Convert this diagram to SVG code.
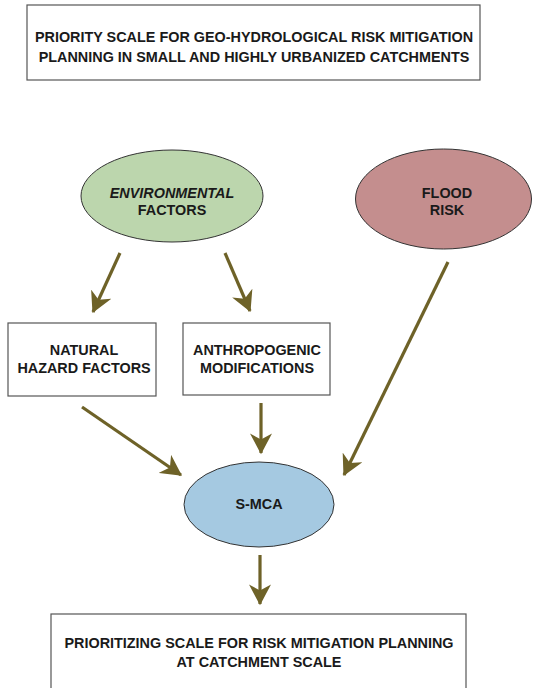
<svg xmlns="http://www.w3.org/2000/svg" width="533" height="688" viewBox="0 0 533 688">
<style>
text{font-family:"Liberation Sans",Arial,sans-serif;font-weight:bold;font-size:14.4px;fill:#1a1a1a;text-anchor:middle}
.box{fill:#fff;stroke:#555;stroke-width:1.2}
.ell{stroke:#333;stroke-width:1}
.arr{stroke:#6e6228;stroke-width:3.2;fill:none;marker-end:url(#ah)}
</style>
<defs>
<marker id="ah" markerUnits="userSpaceOnUse" markerWidth="22" markerHeight="22" refX="16" refY="9" orient="auto" viewBox="0 0 18 18">
<path d="M0,0 L17,9 L0,18 L5,9 Z" fill="#6e6228"/>
</marker>
</defs>
<rect width="533" height="688" fill="#fff"/>
<g id="title">
<rect class="box" x="27" y="5" width="453" height="75"/>
<text x="254" y="42" font-size="14.2">PRIORITY SCALE FOR GEO-HYDROLOGICAL RISK MITIGATION</text>
<text x="254" y="62" font-size="14.2">PLANNING IN SMALL AND HIGHLY URBANIZED CATCHMENTS</text>
</g>
<g id="env">
<ellipse class="ell" cx="172" cy="196" rx="91" ry="46" fill="#bcd6ad"/>
<text x="172" y="198" font-style="italic">ENVIRONMENTAL</text>
<text x="172" y="215">FACTORS</text>
</g>
<g id="flood">
<ellipse class="ell" cx="443.5" cy="199" rx="88" ry="50" fill="#c48e8e"/>
<text x="447" y="198">FLOOD</text>
<text x="447" y="215">RISK</text>
</g>
<g id="natural">
<rect class="box" x="8" y="323" width="148" height="73"/>
<text x="84" y="355">NATURAL</text>
<text x="84" y="373">HAZARD FACTORS</text>
</g>
<g id="anthro">
<rect class="box" x="183" y="323" width="147" height="72"/>
<text x="257" y="355">ANTHROPOGENIC</text>
<text x="257" y="373">MODIFICATIONS</text>
</g>
<g id="smca">
<ellipse class="ell" cx="259" cy="504.5" rx="75" ry="42.5" fill="#a5c9e1"/>
<text x="259" y="508.5">S-MCA</text>
</g>
<g id="result">
<rect class="box" x="51" y="614" width="415" height="80"/>
<text x="259" y="648">PRIORITIZING SCALE FOR RISK MITIGATION PLANNING</text>
<text x="259" y="667">AT CATCHMENT SCALE</text>
</g>
<g id="connectors">
<path class="arr" d="M120,253 L93,312"/>
<path class="arr" d="M225,253 L250,311"/>
<path class="arr" d="M82,407 L181,475"/>
<path class="arr" d="M261,403 L261,453"/>
<path class="arr" d="M448,262 L344,475"/>
<path class="arr" d="M260,555 L260,604"/>
</g>
</svg>
